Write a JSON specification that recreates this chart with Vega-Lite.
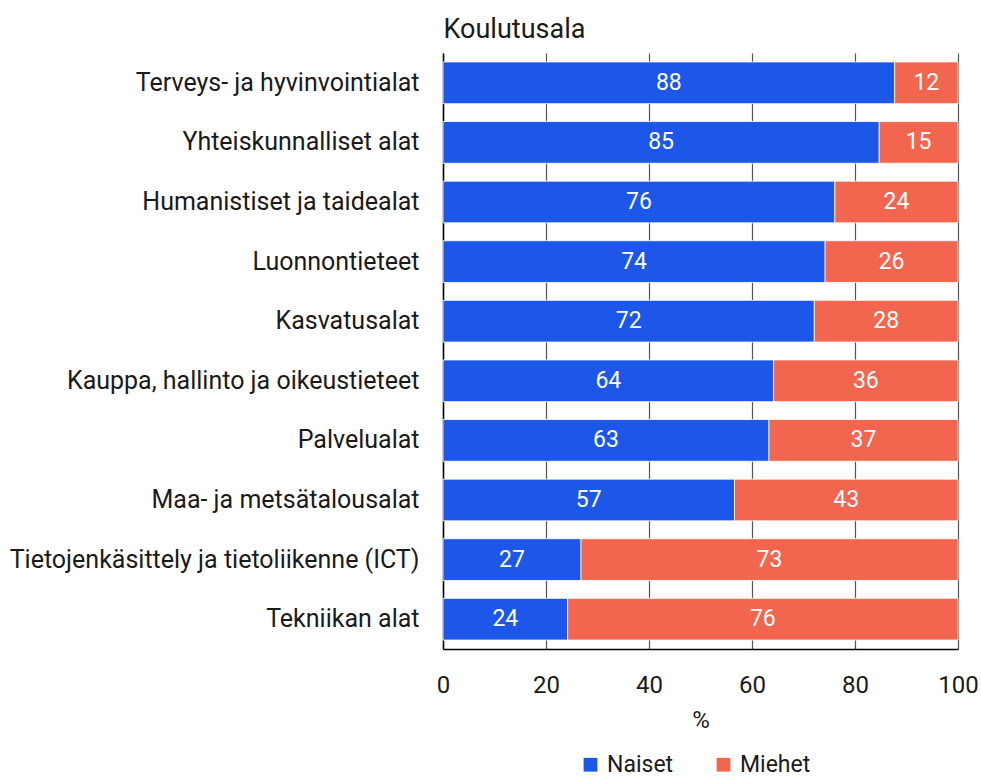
{
  "$schema": "https://vega.github.io/schema/vega-lite/v6.json",
  "autosize": "none",
  "width": 515,
  "height": 596,
  "padding": {"left": 443, "top": 53, "right": 23, "bottom": 133},
  "background": "white",
  "config": {
    "font": "Roboto",
    "view": {"stroke": null},
    "axis": {"labelFont": "Roboto", "titleFont": "Roboto", "labelColor": "#1a1a1a", "titleColor": "#1a1a1a", "domainColor": "#000000", "domainWidth": 1.5},
    "legend": {"labelFont": "Roboto"}
  },
  "data": {
    "values": [
      {"ala": "Terveys- ja hyvinvointialat", "sukupuoli": "Naiset", "osuus": 87.7},
      {"ala": "Terveys- ja hyvinvointialat", "sukupuoli": "Miehet", "osuus": 12.3},
      {"ala": "Yhteiskunnalliset alat", "sukupuoli": "Naiset", "osuus": 84.7},
      {"ala": "Yhteiskunnalliset alat", "sukupuoli": "Miehet", "osuus": 15.3},
      {"ala": "Humanistiset ja taidealat", "sukupuoli": "Naiset", "osuus": 76.1},
      {"ala": "Humanistiset ja taidealat", "sukupuoli": "Miehet", "osuus": 23.9},
      {"ala": "Luonnontieteet", "sukupuoli": "Naiset", "osuus": 74.2},
      {"ala": "Luonnontieteet", "sukupuoli": "Miehet", "osuus": 25.8},
      {"ala": "Kasvatusalat", "sukupuoli": "Naiset", "osuus": 72.1},
      {"ala": "Kasvatusalat", "sukupuoli": "Miehet", "osuus": 27.9},
      {"ala": "Kauppa, hallinto ja oikeustieteet", "sukupuoli": "Naiset", "osuus": 64.2},
      {"ala": "Kauppa, hallinto ja oikeustieteet", "sukupuoli": "Miehet", "osuus": 35.8},
      {"ala": "Palvelualat", "sukupuoli": "Naiset", "osuus": 63.3},
      {"ala": "Palvelualat", "sukupuoli": "Miehet", "osuus": 36.7},
      {"ala": "Maa- ja metsätalousalat", "sukupuoli": "Naiset", "osuus": 56.6},
      {"ala": "Maa- ja metsätalousalat", "sukupuoli": "Miehet", "osuus": 43.4},
      {"ala": "Tietojenkäsittely ja tietoliikenne (ICT)", "sukupuoli": "Naiset", "osuus": 26.8},
      {"ala": "Tietojenkäsittely ja tietoliikenne (ICT)", "sukupuoli": "Miehet", "osuus": 73.2},
      {"ala": "Tekniikan alat", "sukupuoli": "Naiset", "osuus": 24.2},
      {"ala": "Tekniikan alat", "sukupuoli": "Miehet", "osuus": 75.8}
    ]
  },
  "encoding": {
    "y": {
      "field": "ala",
      "type": "nominal",
      "sort": null,
      "scale": {"paddingInner": 0.3, "paddingOuter": 0.15},
      "axis": {
        "title": "Koulutusala",
        "titleAngle": 0,
        "titleAlign": "left",
        "titleBaseline": "alphabetic",
        "titleX": 0,
        "titleY": -16,
        "titleFontSize": 27,
        "titleFontWeight": "normal",
        "labelFontSize": 25,
        "labelPadding": 24,
        "ticks": false,
        "grid": false,
        "labelLimit": 500
      }
    }
  },
  "layer": [
    {
      "mark": {"type": "bar", "stroke": "#ffffff", "strokeWidth": 1, "strokeOpacity": 0.8},
      "encoding": {
        "x": {
          "field": "osuus",
          "type": "quantitative",
          "stack": "zero",
          "scale": {"domain": [0, 100], "nice": false},
          "axis": {
            "title": "%",
            "titleFontSize": 24,
            "titleFontWeight": "normal",
            "titlePadding": 11,
            "labelFontSize": 24,
            "labelPadding": 24,
            "values": [0, 20, 40, 60, 80, 100],
            "ticks": false,
            "grid": true,
            "gridColor": "#555555",
            "gridWidth": 1.2,
            "labelFlush": false
          }
        },
        "color": {
          "field": "sukupuoli",
          "type": "nominal",
          "sort": ["Naiset", "Miehet"],
          "scale": {"domain": ["Naiset", "Miehet"], "range": ["#1c57ea", "#f2664f"]},
          "legend": {
            "title": null,
            "orient": "none",
            "direction": "horizontal",
            "legendX": 136,
            "legendY": 700,
            "symbolType": "square",
            "symbolSize": 190,
            "symbolStrokeWidth": 0,
            "labelFontSize": 23,
            "labelColor": "#1a1a1a",
            "columnPadding": 38,
            "labelOffset": 5
          }
        },
        "order": {"field": "sukupuoli", "sort": "descending"}
      }
    },
    {
      "mark": {"type": "text", "color": "white", "fontSize": 23, "align": "center", "baseline": "middle"},
      "encoding": {
        "x": {"field": "osuus", "type": "quantitative", "stack": "zero", "bandPosition": 0.5},
        "detail": {"field": "sukupuoli"},
        "order": {"field": "sukupuoli", "sort": "descending"},
        "text": {"field": "osuus", "type": "quantitative", "format": ".0f"}
      }
    }
  ]
}
